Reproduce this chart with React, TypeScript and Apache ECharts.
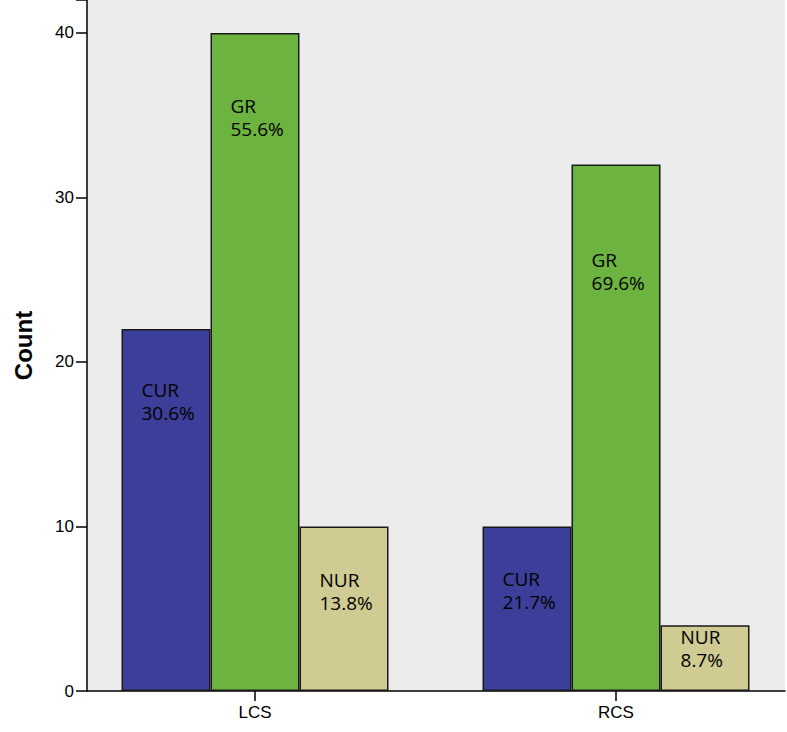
import React, { useEffect, useRef } from "react";
import * as echarts from "echarts";

const categories = ["LCS", "RCS"];
const groups = ["CUR", "GR", "NUR"];
const curValues = [22, 10];
const grValues = [40, 32];
const nurValues = [10, 4];
const curPct = ["30.6%", "21.7%"];
const grPct = ["55.6%", "69.6%"];
const nurPct = ["13.8%", "8.7%"];
const yTicks = [0, 10, 20, 30, 40];

// layout: label vertical offsets (px below bar top) per group / category
const labelOffsets = [
  [49, 41],
  [62, 84],
  [42, 0],
];
const colors = ["#3c3f99", "#6db33f", "#cfcb93"];

export default function App() {
  const ref = useRef<HTMLDivElement>(null);
  useEffect(() => {
    if (!ref.current) return;
    const chart = echarts.init(ref.current, null, { renderer: "svg" });
    const values = [curValues, grValues, nurValues];
    const pcts = [curPct, grPct, nurPct];
    const series = groups.map((g, gi) => ({
      type: "bar",
      name: g,
      barWidth: 89,
      barGap: "0%",
      itemStyle: { color: colors[gi], borderColor: "#1a1a1a", borderWidth: 1.5 },
      data: values[gi].map((v, ci) => ({
        value: [ci + 1, v],
        label: {
          show: true,
          position: [20, labelOffsets[gi][ci]],
          formatter: g + "\n" + pcts[gi][ci],
          fontFamily: "Open Sans",
          fontWeight: 500,
          fontSize: 19,
          lineHeight: 23,
          color: "#000",
        },
      })),
    }));
    chart.setOption({
      animation: false,
      backgroundColor: "#ffffff",
      grid: {
        left: 87,
        right: 2,
        top: 0,
        bottom: 41,
        show: true,
        backgroundColor: "#ececec",
        borderWidth: 0,
      },
      xAxis: {
        type: "value",
        min: 0.5346,
        max: 2.4681,
        splitLine: { show: false },
        axisLine: { show: true, lineStyle: { color: "#000", width: 1.5 } },
        axisTick: {
          show: true,
          customValues: [1, 2],
          length: 10,
          lineStyle: { color: "#000", width: 1.5 },
        },
        axisLabel: {
          customValues: [1, 2],
          formatter: (v: number) => categories[Math.round(v) - 1] ?? "",
          margin: 13,
          fontFamily: "Liberation Sans",
          fontSize: 17,
          color: "#000",
        },
      },
      yAxis: {
        type: "value",
        min: 0,
        max: 42,
        interval: 10,
        name: "Count",
        nameLocation: "middle",
        nameGap: 52,
        nameTextStyle: {
          fontFamily: "Liberation Sans",
          fontWeight: "bold",
          fontSize: 24,
          color: "#000",
        },
        splitLine: { show: false },
        axisLine: { show: true, lineStyle: { color: "#000", width: 1.5 } },
        axisTick: { show: true, length: 11, lineStyle: { color: "#000", width: 1.5 } },
        axisLabel: {
          margin: 13,
          fontFamily: "Liberation Sans",
          fontSize: 17,
          color: "#000",
          formatter: (v: number) => (yTicks.includes(v) ? String(v) : ""),
        },
      },
      series,
    });
    return () => chart.dispose();
  }, []);
  return <div ref={ref} style={{ width: 787, height: 732, position: "absolute", left: 0, top: 0 }} />;
}
